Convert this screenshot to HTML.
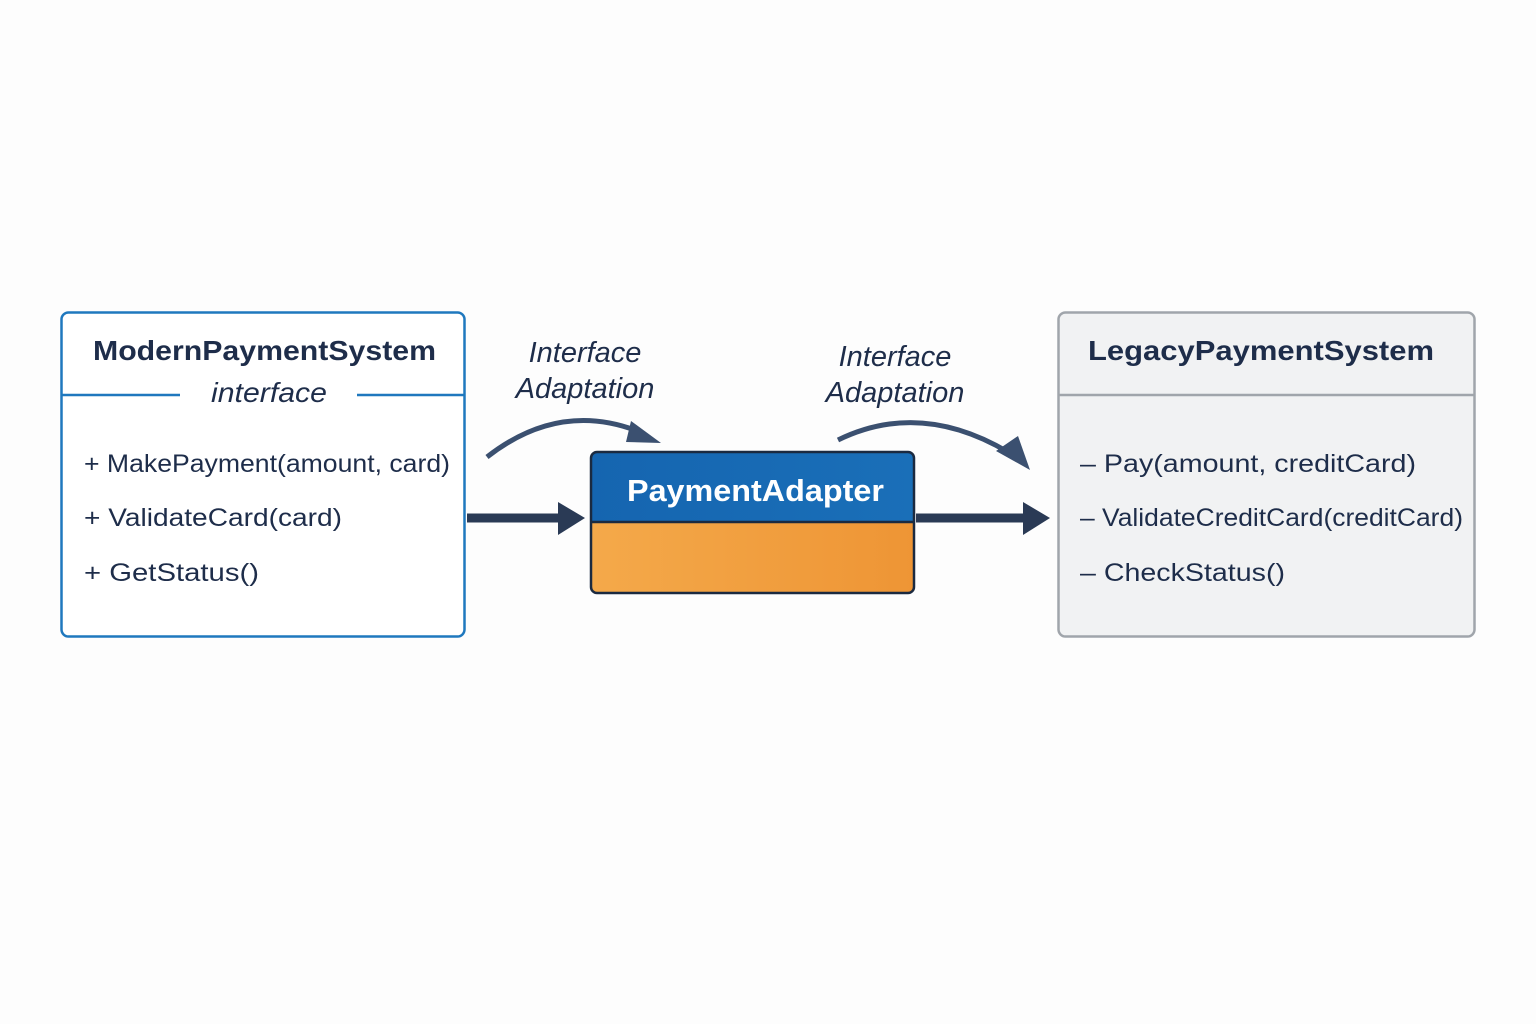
<!DOCTYPE html>
<html><head><meta charset="utf-8"><style>
html,body{margin:0;padding:0;background:#fdfdfd;}
svg{display:block;font-family:"Liberation Sans",sans-serif;}
</style></head><body>
<svg width="1536" height="1024" viewBox="0 0 1536 1024" xmlns="http://www.w3.org/2000/svg">
<defs>
<linearGradient id="og" x1="0" y1="0" x2="1" y2="0"><stop offset="0" stop-color="#f4a94a"/><stop offset="1" stop-color="#ee9535"/></linearGradient>
<linearGradient id="bg" x1="0" y1="0" x2="1" y2="0"><stop offset="0" stop-color="#1565b0"/><stop offset="1" stop-color="#1a6fb8"/></linearGradient>
</defs>
<rect width="1536" height="1024" fill="#fdfdfd"/>
<rect x="61.5" y="312.5" width="403" height="324" rx="7" fill="#fff" stroke="#1f78be" stroke-width="2.5"/>
<line x1="62" y1="395" x2="180" y2="395" stroke="#1f78be" stroke-width="2.5"/>
<line x1="357" y1="395" x2="464" y2="395" stroke="#1f78be" stroke-width="2.5"/>
<text x="93" y="360" font-size="28" font-weight="bold" fill="#1e2d4a" textLength="343" lengthAdjust="spacingAndGlyphs">ModernPaymentSystem</text>
<text x="211" y="402" font-size="28" font-style="italic" fill="#1e2d4a" textLength="116" lengthAdjust="spacingAndGlyphs">interface</text>
<g font-size="25" fill="#1e2d4a">
<text x="84" y="472" textLength="366" lengthAdjust="spacingAndGlyphs">+ MakePayment(amount, card)</text>
<text x="84" y="526" textLength="258" lengthAdjust="spacingAndGlyphs">+ ValidateCard(card)</text>
<text x="84" y="581" textLength="175" lengthAdjust="spacingAndGlyphs">+ GetStatus()</text>
</g>
<rect x="1058.5" y="312.5" width="416" height="324" rx="7" fill="#f1f2f3" stroke="#a0a5ab" stroke-width="2.5"/>
<line x1="1059" y1="395" x2="1474" y2="395" stroke="#a0a5ab" stroke-width="2.5"/>
<text x="1088" y="360" font-size="28" font-weight="bold" fill="#1e2d4a" textLength="346" lengthAdjust="spacingAndGlyphs">LegacyPaymentSystem</text>
<g font-size="25" fill="#1e2d4a">
<text x="1080" y="472" textLength="336" lengthAdjust="spacingAndGlyphs">– Pay(amount, creditCard)</text>
<text x="1080" y="526" textLength="383" lengthAdjust="spacingAndGlyphs">– ValidateCreditCard(creditCard)</text>
<text x="1080" y="581" textLength="205" lengthAdjust="spacingAndGlyphs">– CheckStatus()</text>
</g>
<rect x="591" y="452" width="323" height="141" rx="6" fill="url(#og)"/>
<path d="M597 452 H908 A6 6 0 0 1 914 458 V522 H591 V458 A6 6 0 0 1 597 452Z" fill="url(#bg)"/>
<line x1="591" y1="522" x2="914" y2="522" stroke="#1b2a40" stroke-width="2.5"/>
<rect x="591" y="452" width="323" height="141" rx="6" fill="none" stroke="#1b2a40" stroke-width="2.5"/>
<text x="627" y="501" font-size="31" font-weight="bold" fill="#fff" textLength="257" lengthAdjust="spacingAndGlyphs">PaymentAdapter</text>
<line x1="467" y1="518" x2="562" y2="518" stroke="#2a3a55" stroke-width="9"/>
<polygon points="558,502 585,518 558,535" fill="#2a3a55"/>
<line x1="916" y1="518" x2="1027" y2="518" stroke="#2a3a55" stroke-width="9"/>
<polygon points="1023,502 1050,518 1023,535" fill="#2a3a55"/>
<path d="M487 457 Q560 400 640 432" fill="none" stroke="#3b5070" stroke-width="5"/>
<polygon points="631,421 661,443 626,442" fill="#3b5070"/>
<path d="M838 440 Q920 400 1008 452" fill="none" stroke="#3b5070" stroke-width="5"/>
<polygon points="996,451 1030,470 1018,436" fill="#3b5070"/>
<g font-size="29" font-style="italic" fill="#1e2d4a" text-anchor="middle">
<text x="585" y="362">Interface</text>
<text x="585" y="398">Adaptation</text>
<text x="895" y="366">Interface</text>
<text x="895" y="402">Adaptation</text>
</g>
</svg>
</body></html>
